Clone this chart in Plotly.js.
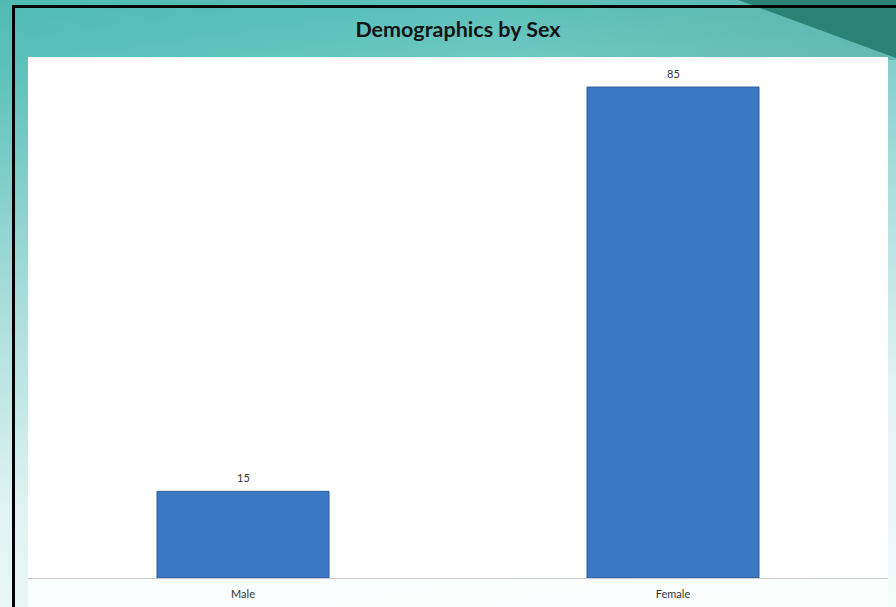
<!DOCTYPE html>
<html>
<head>
<meta charset="utf-8">
<script src="https://cdn.plot.ly/plotly-3.0.1.min.js"></script>
<style>
  html, body { margin: 0; padding: 0; width: 896px; height: 607px; overflow: hidden; }
  body {
    position: relative;
    background: linear-gradient(172deg, #4fbab3 0%, #62c3bd 12%, #a6dcd9 40%, #e0f3f2 70%, #f4fbfb 100%);
  }
  #shade {
    position: absolute; left: 0; top: 0; width: 896px; height: 607px;
    background: linear-gradient(90deg, rgba(60,160,150,0) 55%, rgba(60,160,150,0.45) 100%);
    clip-path: polygon(0 0, 896px 0, 896px 60px, 0 60px);
  }
  #band {
    position: absolute; left: 0; top: 0; width: 896px; height: 607px;
    background: linear-gradient(200deg, #2a8274 0%, #35907f 100%);
    clip-path: polygon(738px 0, 896px 0, 896px 58px);
  }
  #frame {
    position: absolute; left: 12px; top: 5px; width: 900px; height: 620px;
    border-left: 3px solid #000; border-top: 3px solid #000;
  }
  #chart { position: absolute; left: 0; top: 0; width: 896px; height: 607px; }
</style>
</head>
<body>
<div id="shade"></div>
<div id="band"></div>
<div id="frame"></div>
<div id="chart"></div>
<script>
const categories = ["Male", "Female"];
const values = [15, 85];
const labels = ["15", "85"];

const trace = {
  type: "bar",
  x: categories,
  y: values,
  marker: { color: "#3b77c4", line: { color: "#2d5c99", width: 1 } },
  hoverinfo: "x+y"
};

const annotations = categories.map((c, i) => ({
  x: c, y: values[i], text: labels[i],
  xref: "x", yref: "y", showarrow: false,
  yanchor: "bottom", yshift: 5,
  font: { family: "Lato, 'Open Sans', sans-serif", size: 11, color: "#333333" }
}));

const layout = {
  width: 896, height: 607,
  paper_bgcolor: "rgba(0,0,0,0)",
  plot_bgcolor: "#ffffff",
  margin: { l: 28, r: 8, t: 57, b: 29 },
  title: {
    text: "<b>Demographics by Sex</b>",
    x: 0.5, xanchor: "center", xref: "paper",
    y: 0.951, yanchor: "middle",
    font: { family: "Lato, 'Open Sans', sans-serif", size: 21.5, color: "#141414" }
  },
  bargap: 0.6,
  showlegend: false,
  xaxis: {
    type: "category",
    showgrid: false, zeroline: false,
    showline: true, linecolor: "#c9c9c9", linewidth: 1,
    ticks: "", ticklabelstandoff: 6,
    tickfont: { family: "Lato, 'Open Sans', sans-serif", size: 11, color: "#333333" }
  },
  yaxis: {
    range: [0, 90.2],
    visible: false, showgrid: false, zeroline: false, fixedrange: true
  },
  shapes: [
    { type: "rect", xref: "paper", yref: "paper", x0: 0, x1: 1, y0: -0.06, y1: 0,
      fillcolor: "rgba(255,255,255,0.75)", line: { width: 0 }, layer: "below" }
  ],
  annotations: annotations
};

Plotly.newPlot("chart", [trace], layout, { displayModeBar: false, staticPlot: true });
</script>
</body>
</html>
